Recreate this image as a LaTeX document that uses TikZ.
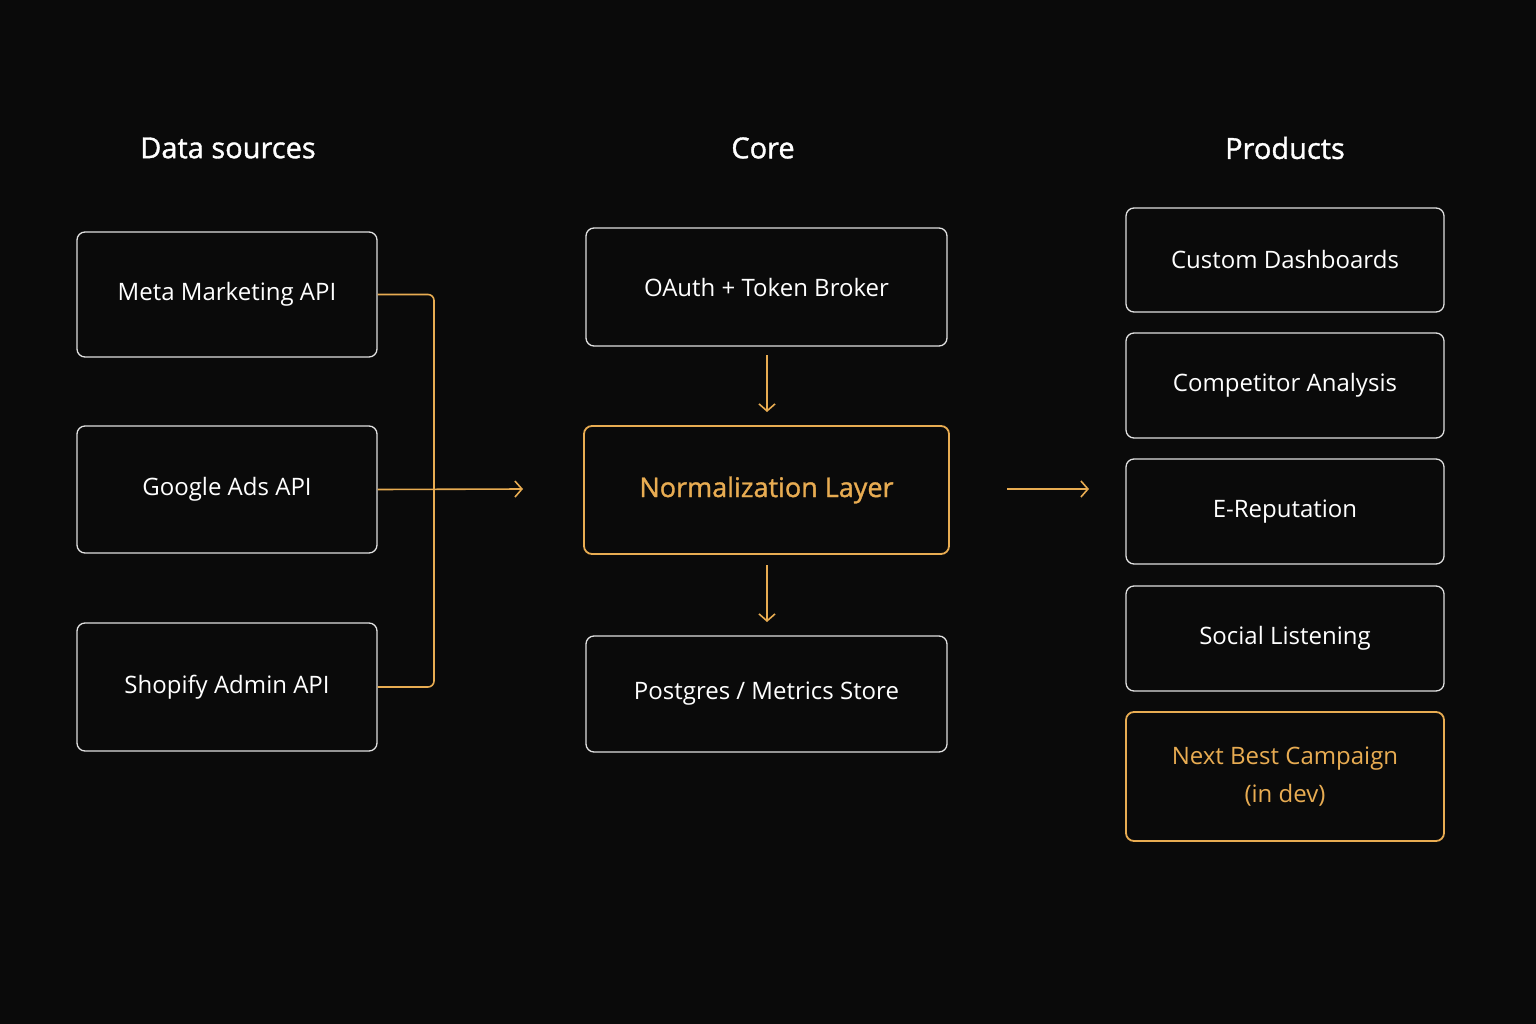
\documentclass[tikz,border=0pt]{standalone}
\usepackage{fontspec}
\setmainfont{Open Sans}
\newfontfamily\medfont[FakeBold=1.2]{Open Sans}
\usetikzlibrary{arrows.meta}
\definecolor{bg}{RGB}{10,10,10}
\definecolor{gold}{RGB}{232,172,82}
\definecolor{edge}{RGB}{225,225,225}
\begin{document}
\begin{tikzpicture}[x=1pt,y=-1pt,
  box/.style={draw=edge,line width=1.3pt,rounded corners=8pt,text=white,font=\fontsize{24}{38}\selectfont,align=center},
  goldbox/.style={box,draw=gold,line width=1.8pt,text=gold},
  hdr/.style={text=white,font=\medfont\fontsize{29}{34}\selectfont},
  arr/.style={draw=gold,line width=1.6pt,-{Straight Barb[length=7pt,width=16pt]}},
  ln/.style={draw=gold,line width=1.6pt,rounded corners=6pt}]
\fill[bg] (0,0) rectangle (1536,1024);
\useasboundingbox (0,0) rectangle (1536,1024);
\node[hdr] (h1) at (228,148) {Data sources};
\node[hdr] (h2) at (763,148) {Core};
\node[hdr] (h3) at (1285,148) {Products};
\newcommand{\bx}[7]{\node[#1,minimum width=#4,minimum height=#5] (#2) at (#6,#7) {#3};}
\bx{box}{meta}{Meta Marketing API}{300pt}{125pt}{227}{294.5}
\bx{box}{goog}{Google Ads API}{300pt}{127pt}{227}{489.5}
\bx{box}{shop}{Shopify Admin API}{300pt}{128pt}{227}{687}
\bx{box}{oauth}{OAuth + Token Broker}{361pt}{118pt}{766.5}{287}
\bx{goldbox}{norm}{\medfont\fontsize{27}{34}\selectfont Normalization Layer}{365pt}{128pt}{766.5}{490}
\bx{box}{pg}{Postgres / Metrics Store}{361pt}{116pt}{766.5}{694}
\bx{box}{p1}{Custom Dashboards}{318pt}{104pt}{1285}{260}
\bx{box}{p2}{Competitor Analysis}{318pt}{105pt}{1285}{385.5}
\bx{box}{p3}{E-Reputation}{318pt}{105pt}{1285}{511.5}
\bx{box}{p4}{Social Listening}{318pt}{105pt}{1285}{638.5}
\bx{goldbox}{p5}{Next Best Campaign\\(in dev)}{318pt}{129pt}{1285}{776.5}
\coordinate (a1) at (523,489);
\coordinate (b0) at (1007,489);
\coordinate (b1) at (1089,489);
\coordinate (v1a) at (767,355);
\coordinate (v1b) at (767,412);
\coordinate (v2a) at (767,565);
\coordinate (v2b) at (767,622);
\draw[ln] (meta.east) -- (434,294.5) -- (434,687) -- (shop.east);
\draw[arr] (goog.east) -- (a1);
\draw[arr] (b0) -- (b1);
\draw[arr] (v1a) -- (v1b);
\draw[arr] (v2a) -- (v2b);
\end{tikzpicture}
\end{document}
